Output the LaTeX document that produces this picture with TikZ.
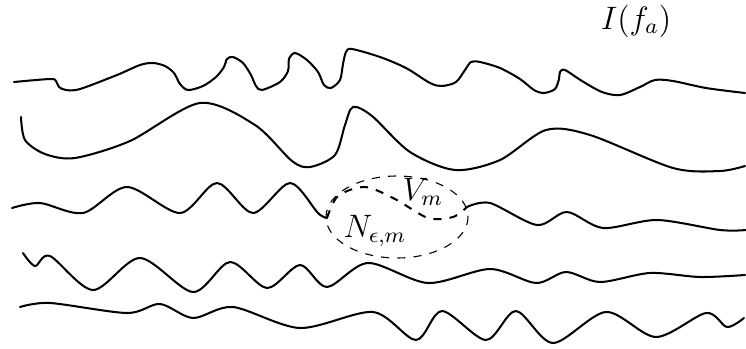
\documentclass[tikz,border=0pt]{standalone}
\usepackage{amsmath,amssymb}
\usepackage{tikz}
\tikzset{
  wave/.style={line width=0.75pt, line join=round, line cap=round},
  nbhd/.style={dashed, line width=0.4pt},
  subwave/.style={line width=0.75pt, dash pattern=on 3pt off 3pt},
  lbl/.style={font=\fontsize{12}{14}\selectfont},
}
\begin{document}
\begin{tikzpicture}[x=0.013cm, y=-0.013cm]
  \useasboundingbox (0,0) rectangle (746,349);
  % label of the family
  \node[lbl] (ifa) at (636,21) {$I(f_a)$};
  % first row
  \draw[wave] plot[smooth] coordinates {(14,82) (50,79) (56,81) (59,87) (66,90) (80,89)
    (117,75) (140,65) (153,63) (165,66) (174,73) (180,84) (188,90) (203,86) (216,77)
    (224,67) (227,59) (233,57) (243,63) (251,75) (256,86) (262,90) (280,82) (288,71)
    (289,59) (295,53) (307,60) (318,72) (324,85) (331,88) (340,80) (343,64) (346,52)
    (352,49) (380,57) (406,68) (430,83) (442,86) (456,82) (465,70) (471,62) (480,62)
    (500,68) (520,79) (534,90) (544,93) (555,89) (559,79) (560,72) (565,70) (582,81)
    (602,92) (620,95) (640,87) (655,80) (673,81) (706,88) (745,93)};
  % second row
  \draw[wave] plot[smooth] coordinates {(21,117) (25,140) (45,154) (75,158) (130,141)
    (200,103) (255,125) (292,161) (310,167) (335,155) (345,125) (353,107) (372,116)
    (410,152) (455,170) (500,160) (546,130) (590,135) (673,168) (720,171) (745,166)};
  % third row, outside the neighbourhood
  \draw[wave] plot[smooth] coordinates {(12,208) (40,203) (83,213) (127,187) (180,213)
    (217,183) (253,213) (290,183) (318,213) (327,218)};
  \draw[wave] plot[smooth] coordinates {(467,207) (490,203) (537,225) (567,212) (603,228)
    (657,220) (720,230) (746,230)};
  % neighbourhood
  \draw[nbhd] (397,217) ellipse [x radius=71, y radius=41];
  \draw[subwave] plot[smooth] coordinates {(327,218) (338,196) (365,187) (395,199)
    (428,218) (453,217) (467,207)};
  \node[lbl] (vm) at (423,192) {$V_m$};
  \node[lbl] (nem) at (375,231) {$N_{\epsilon,m}$};
  % fourth row
  \draw[wave] plot[smooth] coordinates {(23,253) (35,266) (50,256) (93,290) (140,258)
    (193,292) (230,262) (267,288) (300,265) (327,287) (368,263) (428,283) (490,269)
    (536,283) (566,272) (600,282) (650,273) (700,277) (745,275)};
  % fifth row
  \draw[wave] plot[smooth] coordinates {(20,307) (50,303) (127,313) (160,304) (193,318)
    (233,307) (300,328) (373,312) (416,340) (442,311) (486,340) (516,311) (553,343)
    (606,312) (656,337) (706,313) (727,327) (744,318)};
\end{tikzpicture}
\end{document}
